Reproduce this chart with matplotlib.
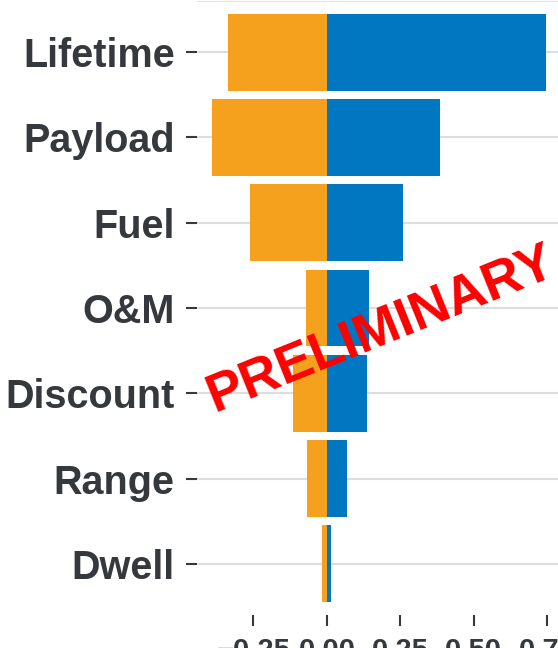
import numpy as np
import matplotlib
matplotlib.use("Agg")
import matplotlib.pyplot as plt

# donnees
categories = ["Lifetime", "Payload", "Fuel", "O&M", "Discount", "Range", "Dwell"]
low_vals = [-0.336, -0.391, -0.262, -0.071, -0.115, -0.069, -0.016]
high_vals = [0.744, 0.384, 0.258, 0.143, 0.135, 0.067, 0.014]
xticks = [-0.25, 0.00, 0.25, 0.50, 0.75]

ORANGE = "#F5A11E"
BLUE = "#0077C0"
TXT = "#35393E"

plt.rcParams["font.family"] = ["Liberation Sans", "DejaVu Sans"]

W, H = 558, 648
fig = plt.figure(figsize=(W / 100, H / 100), dpi=100)
# position de l'axe en pixels: gauche 197, haut 1, bas 615, droite ~562
ax = fig.add_axes([197 / W, 1 - 615 / H, (562 - 197) / W, 614 / H])

y = np.arange(len(categories))
ax.barh(y, low_vals, height=0.9, color=ORANGE, zorder=3)
ax.barh(y, high_vals, height=0.9, color=BLUE, zorder=3)

ax.set_xlim(-0.442, 0.80)
ax.set_ylim(len(categories) - 0.4, -0.6)
ax.set_yticks(y)
ax.set_yticklabels(categories)
ax.set_xticks(xticks)
ax.set_xticklabels([f"{v:.2f}".replace("-", "\u2212") for v in xticks])

for s in ax.spines.values():
    s.set_visible(False)
ax.grid(axis="y", color="#DDDDDD", linewidth=1.5, zorder=0)
ax.grid(axis="x", visible=False)
ax.axhline(-0.6, color="#E6E6E6", linewidth=1.5, zorder=0)

ax.tick_params(axis="y", length=8, width=1.5, color=TXT, pad=8,
               labelsize=28.5, labelcolor=TXT)
ax.tick_params(axis="x", length=8, width=1.5, color=TXT, pad=8,
               labelsize=21, labelcolor=TXT)
for lab in ax.get_yticklabels() + ax.get_xticklabels():
    lab.set_fontweight("bold")

# filigrane
fig.text(381 / W, 1 - 330 / H, "PRELIMINARY", color="#FF0000", fontsize=39,
         fontweight="bold", rotation=22, ha="center", va="center",
         rotation_mode="anchor", zorder=10)

fig.savefig("out.png", dpi=100)
